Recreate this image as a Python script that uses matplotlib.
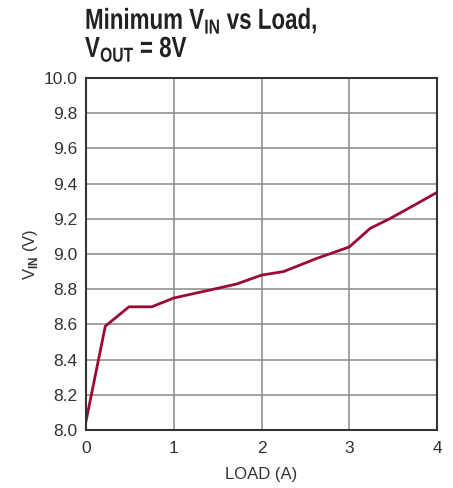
import matplotlib
matplotlib.use("Agg")
import matplotlib.pyplot as plt
from matplotlib.textpath import TextPath
from matplotlib.patches import PathPatch
from matplotlib.font_manager import FontProperties
from matplotlib.transforms import Affine2D, IdentityTransform

# data
load_a = [0.0, 0.22, 0.49, 0.75, 1.0, 1.41, 1.72, 2.0, 2.25, 2.63, 3.0, 3.24, 3.46, 3.75, 4.0]
vin_v = [8.05, 8.59, 8.70, 8.70, 8.75, 8.795, 8.83, 8.88, 8.90, 8.975, 9.04, 9.146, 9.20, 9.28, 9.35]

x_ticks = [0, 1, 2, 3, 4]
y_ticks = [8.0, 8.2, 8.4, 8.6, 8.8, 9.0, 9.2, 9.4, 9.6, 9.8, 10.0]

title_lines = [r"Minimum V$_{\mathrm{IN}}$ vs Load,", r"V$_{\mathrm{OUT}}$ = 8V"]

plt.rcParams["font.family"] = ["Liberation Sans", "DejaVu Sans"]
plt.rcParams["mathtext.fontset"] = "custom"
plt.rcParams["mathtext.rm"] = "Liberation Sans"

W, H = 453, 488
fig = plt.figure(figsize=(W / 100, H / 100), dpi=100)
ax = fig.add_axes([86 / W, 58 / H, 351 / W, 352 / H])

ax.plot(load_a, vin_v, color="#9b0a34", linewidth=2.0, solid_joinstyle="round")

ax.set_xlim(0, 4)
ax.set_ylim(8.0, 10.0)
ax.set_xticks(x_ticks)
ax.set_yticks(y_ticks)
ax.set_xticklabels([str(t) for t in x_ticks])
ax.set_yticklabels([f"{t:.1f}" for t in y_ticks])
ax.tick_params(length=0, labelsize=12.5, colors="#333333")
ax.tick_params(axis="x", pad=8)
ax.tick_params(axis="y", pad=6)
ax.grid(True, color="#8a8a8a", linewidth=1.1)
ax.set_axisbelow(True)
for s in ax.spines.values():
    s.set_color("#333333")
    s.set_linewidth(1.5)

ax.set_xlabel("LOAD (A)", fontsize=12, color="#333333", labelpad=8)
ax.set_ylabel(r"V$_{\mathrm{IN}}$ (V)", fontsize=12, color="#333333", labelpad=3)

# condensed bold title: squeeze a bold text path horizontally
plt.rcParams["mathtext.rm"] = "Liberation Sans:bold"
bold = FontProperties(family="Liberation Sans", weight="bold")
squeeze = 0.77
baselines = [29, 57]
for line, base in zip(title_lines, baselines):
    tp = TextPath((0, 0), line, size=29, prop=bold)
    tr = Affine2D().scale(squeeze, 1.0).translate(85, H - base)
    fig.patches.append(PathPatch(tp, transform=tr + IdentityTransform(),
                                 facecolor="#222222", edgecolor="none"))

fig.savefig("out.png", dpi=100)
